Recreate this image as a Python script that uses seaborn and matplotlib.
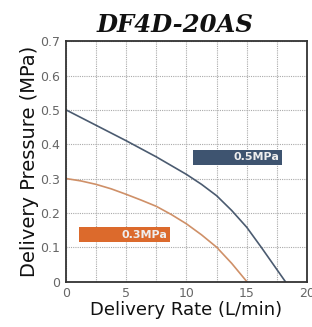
import matplotlib
matplotlib.use("Agg")
import matplotlib.pyplot as plt
from matplotlib.patches import Rectangle
import seaborn as sns
import pandas as pd
import numpy as np

# Data
rate_05 = [0, 2.5, 5, 7.5, 10, 11.25, 12.5, 13.75, 15, 16.2, 17.3, 18.2]
press_05 = [0.5, 0.455, 0.41, 0.363, 0.312, 0.283, 0.25, 0.207, 0.158, 0.10, 0.045, 0.0]
rate_03 = [0, 1.25, 2.5, 3.75, 5, 6.25, 7.5, 8.75, 10, 11.25, 12.5, 13.75, 15]
press_03 = [0.3, 0.293, 0.283, 0.27, 0.254, 0.237, 0.219, 0.195, 0.168, 0.136, 0.10, 0.053, 0.0]
series_names = ["0.5MPa", "0.3MPa"]
series_colors = ["#4b5b70", "#cf9068"]
box_colors = ["#3e5470", "#dc6a2c"]
x_ticks = [0, 5, 10, 15, 20]
y_ticks = [0, 0.1, 0.2, 0.3, 0.4, 0.5, 0.6, 0.7]
y_tick_labels = ["0", "0.1", "0.2", "0.3", "0.4", "0.5", "0.6", "0.7"]

df = pd.concat([
    pd.DataFrame({"rate": rate_05, "pressure": press_05, "series": series_names[0]}),
    pd.DataFrame({"rate": rate_03, "pressure": press_03, "series": series_names[1]}),
])

sns.set_theme(style="white")
plt.rcParams['font.family'] = ['DejaVu Sans']

fig = plt.figure(figsize=(3.12, 3.27), dpi=100)
ax = fig.add_axes([0.2115, 0.139, 0.7725, 0.735])

sns.lineplot(data=df, x="rate", y="pressure", hue="series", hue_order=series_names,
             palette=series_colors, linewidth=1.2, legend=False, ax=ax, sort=False,
             estimator=None)

ax.set_xlim(0, 20)
ax.set_ylim(0, 0.7)
ax.set_xticks(x_ticks)
ax.set_xticks(np.arange(0, 20.1, 2.5), minor=True)
ax.set_yticks(y_ticks)
ax.set_yticklabels(y_tick_labels)
ax.grid(True, which="both", axis="x", color="#aaaaaa", linestyle=(0, (1, 1)), linewidth=0.8)
ax.grid(True, which="major", axis="y", color="#aaaaaa", linestyle=(0, (1, 1)), linewidth=0.8)
ax.tick_params(axis="both", which="both", length=0, labelsize=9, colors="#666666", pad=4)
for s in ax.spines.values():
    s.set_color("#333333")
    s.set_linewidth(1.3)

ax.set_xlabel("Delivery Rate (L/min)", fontsize=13, color="#111111", labelpad=1)
ax.set_ylabel("Delivery Pressure (MPa)", fontsize=14, color="#111111", labelpad=1)
fig.text(0.5625, 0.902, "DF4D-20AS", ha="center", va="baseline", fontsize=17.5,
         fontweight="bold", fontstyle="italic", family="DejaVu Serif", color="#111111")

# Label boxes
ax.add_patch(Rectangle((10.5, 0.340), 7.4, 0.044, facecolor=box_colors[0], edgecolor="none", zorder=3))
ax.text(17.7, 0.362, series_names[0], ha="right", va="center", fontsize=8, color="#eeeeee",
        fontweight="bold", zorder=4)
ax.add_patch(Rectangle((1.1, 0.114), 7.55, 0.046, facecolor=box_colors[1], edgecolor="none", zorder=3))
ax.text(8.4, 0.137, series_names[1], ha="right", va="center", fontsize=8, color="#eeeeee",
        fontweight="bold", zorder=4)

fig.savefig("out.png", dpi=100)
